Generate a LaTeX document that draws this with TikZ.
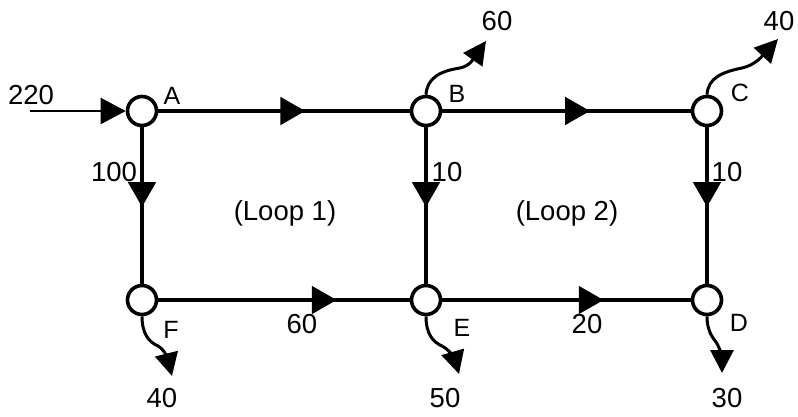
\documentclass[tikz,border=0pt]{standalone}
\usepackage{fontspec}
\setmainfont{Liberation Sans}
\usetikzlibrary{arrows.meta,decorations.markings}
\tikzset{
  junction/.style={circle,draw,line width=3.6pt,minimum size=29pt,inner sep=0pt,fill=white},
  pipe/.style={line width=4.8pt},
  flowmark/.style={postaction={decorate,decoration={markings,
      mark=at position #1 with {\arrow{Triangle[length=25pt,width=27pt]}}}}},
  outflow/.style={line width=3pt,-{Triangle[length=23pt,width=23pt]}},
  inflow/.style={line width=2pt,-{Triangle[length=25pt,width=26pt]}},
  num/.style={font=\fontsize{27.5}{27.5}\selectfont,inner sep=0pt},
  tag/.style={font=\fontsize{25}{25}\selectfont,inner sep=0pt},
}
\begin{document}
\begin{tikzpicture}[x=1pt,y=-1pt]
\useasboundingbox (0,0) rectangle (798,416);

% junctions
\node[junction] (A) at (142,111) {};
\node[junction] (B) at (426,111) {};
\node[junction] (C) at (707,111) {};
\node[junction] (F) at (142,300) {};
\node[junction] (E) at (426,300) {};
\node[junction] (D) at (707,300) {};

% pipes with flow directions
\draw[pipe,flowmark=0.585] (A) -- (B);
\draw[pipe,flowmark=0.595] (B) -- (C);
\draw[pipe,flowmark=0.51] (A) -- (F);
\draw[pipe,flowmark=0.51] (B) -- (E);
\draw[pipe,flowmark=0.51] (C) -- (D);
\draw[pipe,flowmark=0.71] (F) -- (E);
\draw[pipe,flowmark=0.65] (E) -- (D);

% supply
\coordinate (src) at (30,111);
\draw[inflow] (src) -- (A);

% withdrawals
\coordinate (outB) at (486,41);
\coordinate (outC) at (778,39);
\coordinate (outF) at (172,376);
\coordinate (outE) at (459,374);
\coordinate (outD) at (722,373);
\draw[outflow] (B.north) .. controls (427,78) and (440,71) .. (460,68)
  .. controls (470,66) and (474,58) .. (outB);
\draw[outflow] (C.north) .. controls (708,78) and (722,72) .. (742,68)
  .. controls (756,65) and (764,54) .. (outC);
\draw[outflow] (F.south) .. controls (142,334) and (149,342) .. (158,346)
  .. controls (165,350) and (168,360) .. (outF);
\draw[outflow] (E.south) .. controls (426,334) and (433,342) .. (442,346)
  .. controls (450,350) and (455,360) .. (outE);
\draw[outflow] (D.south) .. controls (707,330) and (712,337) .. (716,342)
  .. controls (720,348) and (722,358) .. (outD);

% junction names
\node[tag] (lA) at (172,96) {A};
\node[tag] (lB) at (457,94) {B};
\node[tag] (lC) at (740,93) {C};
\node[tag] (lF) at (171,330) {F};
\node[tag] (lE) at (462,328) {E};
\node[tag] (lD) at (739,323) {D};

% flow values
\node[num] (q220) at (31,95) {220};
\node[num] (q100) at (114,172) {100};
\node[num] (qBE) at (447,172) {10};
\node[num] (qCD) at (727,172) {10};
\node[num] (qFE) at (302,324) {60};
\node[num] (qED) at (587,324) {20};
\node[num] (qB) at (497,21) {60};
\node[num] (qC) at (779,21) {40};
\node[num] (qF) at (162,398) {40};
\node[num] (qE) at (445,398) {50};
\node[num] (qD) at (727,398) {30};

% loop names
\node[num] (loop1) at (285,213) {(Loop 1)};
\node[num] (loop2) at (567,213) {(Loop 2)};
\end{tikzpicture}
\end{document}
